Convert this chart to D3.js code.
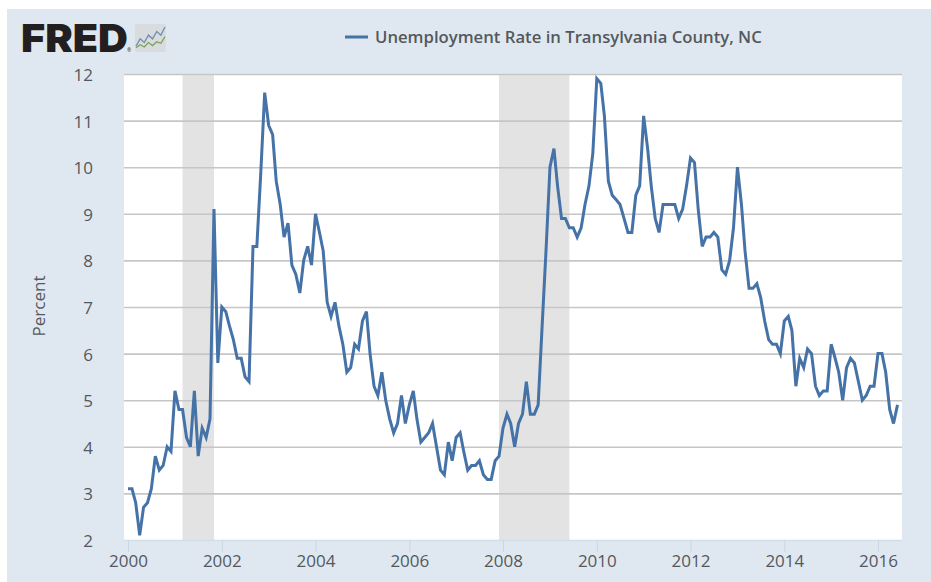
<!DOCTYPE html>
<html><head><meta charset="utf-8">
<script src="https://cdn.jsdelivr.net/npm/d3@7"></script>
<style>html,body{margin:0;padding:0;background:#fff}svg{display:block}text{font-family:"Open Sans",sans-serif}</style>
</head><body><svg id="c" width="931" height="582"></svg>
<script>
const seriesName = "Unemployment Rate in Transylvania County, NC";
const yAxisLabel = "Percent";
const startYear = 2000;
const rate2000 = [3.1,3.1,2.8,2.1,2.7,2.8,3.1,3.8,3.5,3.6,4.0,3.9];
const rate2001 = [5.2,4.8,4.8,4.2,4.0,5.2,3.8,4.4,4.2,4.6,9.1,5.8];
const rate2002 = [7.0,6.9,6.6,6.3,5.9,5.9,5.5,5.4,8.3,8.3,9.9,11.6];
const rate2003 = [10.9,10.7,9.7,9.2,8.5,8.8,7.9,7.7,7.3,8.0,8.3,7.9];
const rate2004 = [9.0,8.6,8.2,7.1,6.8,7.1,6.6,6.2,5.6,5.7,6.2,6.1];
const rate2005 = [6.7,6.9,6.0,5.3,5.1,5.6,5.0,4.6,4.3,4.5,5.1,4.5];
const rate2006 = [4.9,5.2,4.6,4.1,4.2,4.3,4.5,4.0,3.5,3.4,4.1,3.7];
const rate2007 = [4.2,4.3,3.9,3.5,3.6,3.6,3.7,3.4,3.3,3.3,3.7,3.8];
const rate2008 = [4.4,4.7,4.5,4.0,4.5,4.7,5.4,4.7,4.7,4.9,6.6,8.2];
const rate2009 = [10.0,10.4,9.6,8.9,8.9,8.7,8.7,8.5,8.7,9.2,9.6,10.3];
const rate2010 = [11.9,11.8,11.1,9.7,9.4,9.3,9.2,8.9,8.6,8.6,9.4,9.6];
const rate2011 = [11.1,10.4,9.6,8.9,8.6,9.2,9.2,9.2,9.2,8.9,9.1,9.6];
const rate2012 = [10.2,10.1,9.1,8.3,8.5,8.5,8.6,8.5,7.8,7.7,8.0,8.7];
const rate2013 = [10.0,9.2,8.2,7.4,7.4,7.5,7.2,6.7,6.3,6.2,6.2,6.0];
const rate2014 = [6.7,6.8,6.5,5.3,5.9,5.7,6.1,6.0,5.3,5.1,5.2,5.2];
const rate2015 = [6.2,5.9,5.6,5.0,5.7,5.9,5.8,5.4,5.0,5.1,5.3,5.3];
const rate2016 = [6.0,6.0,5.6,4.8,4.5,4.9];
const recessions = [["2001-03-01","2001-11-01"],["2007-12-01","2009-06-01"]];
const yTicks = [2,3,4,5,6,7,8,9,10,11,12];
const xTickYears = [2000,2002,2004,2006,2008,2010,2012,2014,2016];
const logoLine1 = [1,3,2,4,3,5,4,6.2];
const logoLine2 = [0.6,1.4,0.8,2,1.2,2.2,1.8,3.6];

const values = [rate2000,rate2001,rate2002,rate2003,rate2004,rate2005,rate2006,rate2007,rate2008,rate2009,rate2010,rate2011,rate2012,rate2013,rate2014,rate2015,rate2016].flat();
const data = values.map((v,i)=>({date:new Date(startYear,i,1),v}));

const svg = d3.select("#c");
const blue = "#4572a7", ink = "#54585d";
svg.append("rect").attr("x",7).attr("y",9).attr("width",924).attr("height",573).attr("fill","#dfe8f0");

const plotL=124,plotR=902,plotT=74,plotB=540;
const x0=128, pxPerYear=46.875;
const x = d3.scaleTime()
  .domain([new Date(2000,0,1),new Date(2016,0,1)])
  .range([x0,x0+16*pxPerYear]);
const y = d3.scaleLinear().domain([2,12]).range([plotB,plotT]);

svg.append("rect").attr("x",plotL).attr("y",plotT).attr("width",plotR-plotL).attr("height",plotB-plotT).attr("fill","#fff");

svg.append("g").selectAll("rect").data(recessions).join("rect")
  .attr("x",d=>x(new Date(d[0]+"T00:00:00")))
  .attr("width",d=>x(new Date(d[1]+"T00:00:00"))-x(new Date(d[0]+"T00:00:00")))
  .attr("y",plotT).attr("height",plotB-plotT).attr("fill","#e3e3e3");

const yAxis = d3.axisLeft(y).tickValues(yTicks).tickSize(-(plotR-plotL)).tickPadding(7).tickFormat(d3.format("d"));
const gy = svg.append("g").attr("transform",`translate(${plotL},0)`).call(yAxis);
gy.select(".domain").remove();
gy.selectAll(".tick line").attr("stroke","#c6c6c6").attr("stroke-width",1.6);
gy.selectAll(".tick").filter(d=>d===2).select("line").attr("stroke","#d3dde6");
gy.selectAll("text").attr("font-size",17).attr("fill",ink).attr("x",-31).attr("y",1).style("font-family",'"Open Sans",sans-serif');

const xAxis = d3.axisBottom(x).tickValues(xTickYears.map(v=>new Date(v,0,1))).tickSize(12).tickPadding(3).tickFormat(d3.timeFormat("%Y"));
const gx = svg.append("g").attr("transform",`translate(0,${plotB})`).call(xAxis);
gx.select(".domain").remove();
gx.selectAll(".tick line").attr("stroke","#ccd6e0").attr("stroke-width",1);
gx.selectAll("text").attr("font-size",17).attr("fill",ink).style("font-family",'"Open Sans",sans-serif');

const line = d3.line().x(d=>x(d.date)).y(d=>y(d.v)).curve(d3.curveLinear);
svg.append("path").datum(data).attr("d",line).attr("fill","none").attr("stroke",blue).attr("stroke-width",3).attr("stroke-linejoin","miter");

svg.append("text").attr("transform","translate(45,306) rotate(-90)").attr("text-anchor","middle")
  .attr("font-size",17).attr("fill",ink).text(yAxisLabel);

svg.append("line").attr("x1",345).attr("x2",368).attr("y1",37).attr("y2",37).attr("stroke",blue).attr("stroke-width",3);
svg.append("text").attr("x",375).attr("y",43).attr("font-size",16.7).attr("font-weight",600).attr("fill",ink).text(seriesName);

// FRED logo
svg.append("text").attr("x",21).attr("y",52).attr("font-size",39).attr("font-weight",900)
  .attr("textLength",107).attr("lengthAdjust","spacingAndGlyphs")
  .style("font-family",'Inter,"Liberation Sans",sans-serif').attr("fill","#231f20").text("FRED");
svg.append("text").attr("x",127).attr("y",52).attr("font-size",5).attr("fill","#231f20").text("®");
svg.append("rect").attr("x",135).attr("y",24).attr("width",31).attr("height",28).attr("rx",2).attr("fill","#d9dcde");
const lx = d3.scaleLinear().domain([0,logoLine1.length-1]).range([136,165]);
const ly = d3.scaleLinear().domain([0,7]).range([50,24]);
const logoLine = d3.line().x((d,i)=>lx(i)).y(d=>ly(d));
svg.append("path").attr("d",logoLine(logoLine1)).attr("fill","none").attr("stroke","#6f8fae").attr("stroke-width",1.3);
svg.append("path").attr("d",logoLine(logoLine2)).attr("fill","none").attr("stroke","#7ea05a").attr("stroke-width",1.3);
</script></body></html>
